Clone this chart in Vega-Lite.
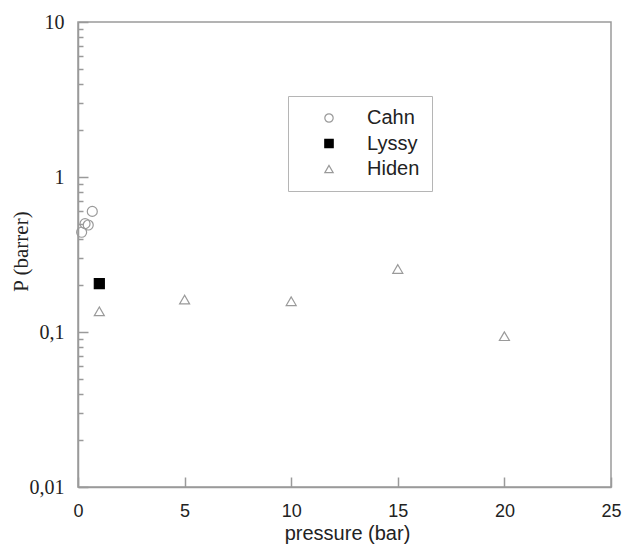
{
  "$schema": "https://vega.github.io/schema/vega-lite/v6.json",
  "width": 533,
  "height": 465,
  "autosize": {"type": "none"},
  "padding": {"left": 78, "top": 22, "right": 11, "bottom": 60},
  "background": "white",
  "config": {
    "view": {"stroke": "#9a9a9a", "strokeWidth": 1.5},
    "axis": {
      "domainColor": "#9a9a9a",
      "tickColor": "#9a9a9a",
      "domainWidth": 1.5,
      "tickWidth": 1.5,
      "grid": false,
      "labelColor": "#222",
      "titleColor": "#222",
      "titleFontWeight": "normal"
    }
  },
  "data": {
    "values": [
      {"series": "Cahn", "pressure": 0.17, "P": 0.44},
      {"series": "Cahn", "pressure": 0.33, "P": 0.5},
      {"series": "Cahn", "pressure": 0.48, "P": 0.49},
      {"series": "Cahn", "pressure": 0.67, "P": 0.6},
      {"series": "Lyssy", "pressure": 1.0, "P": 0.205},
      {"series": "Hiden", "pressure": 1.0, "P": 0.136},
      {"series": "Hiden", "pressure": 5.0, "P": 0.162},
      {"series": "Hiden", "pressure": 10.0, "P": 0.158},
      {"series": "Hiden", "pressure": 15.0, "P": 0.255},
      {"series": "Hiden", "pressure": 20.0, "P": 0.094}
    ]
  },
  "layer": [
    {
      "mark": {"type": "point", "strokeWidth": 1.2, "opacity": 1, "size": 100},
      "encoding": {
        "x": {
          "field": "pressure",
          "type": "quantitative",
          "scale": {"domain": [0, 25], "nice": false, "zero": false},
          "axis": {
            "values": [0, 5, 10, 15, 20, 25],
            "tickSize": -10,
            "labelPadding": 25,
            "labelFont": "Liberation Sans",
            "labelFontSize": 18,
            "labelFlush": false,
            "title": "pressure (bar)",
            "titleFont": "Liberation Sans",
            "titleFontSize": 20,
            "titleX": 269,
            "titleY": 52,
            "titleBaseline": "alphabetic"
          }
        },
        "y": {
          "field": "P",
          "type": "quantitative",
          "scale": {"type": "log", "domain": [0.01, 10], "nice": false},
          "axis": {
            "orient": "left",
            "values": [0.01, 0.1, 1, 10],
            "tickSize": -10,
            "labelPadding": 24,
            "labelFont": "Liberation Serif",
            "labelFontSize": 20,
            "labelExpr": "replace(toString(datum.value), '.', ',')",
            "labelFlush": false,
            "title": "P (barrer)",
            "titleFont": "Liberation Serif",
            "titleFontSize": 21,
            "titleX": -57,
            "titleY": 229,
            "titleAngle": 270,
            "titleAlign": "center",
            "titleBaseline": "middle"
          }
        },
        "shape": {
          "field": "series",
          "type": "nominal",
          "scale": {"domain": ["Cahn", "Lyssy", "Hiden"], "range": ["circle", "square", "triangle-up"]},
          "legend": {
            "title": null,
            "orient": "none",
            "legendX": 210,
            "legendY": 74,
            "padding": 12,
            "strokeColor": "#b5b5b5",
            "fillColor": "white",
            "symbolOffset": 19,
            "symbolSize": 70,
            "symbolStrokeWidth": 1.2,
            "labelOffset": 28,
            "labelFont": "Liberation Sans",
            "labelFontSize": 20,
            "labelColor": "#222",
            "rowPadding": 5.5
          }
        },
        "stroke": {
          "field": "series",
          "type": "nominal",
          "scale": {"domain": ["Cahn", "Lyssy", "Hiden"], "range": ["#9a9a9a", "#000000", "#9a9a9a"]},
          "legend": {"title": null}
        },
        "fill": {
          "field": "series",
          "type": "nominal",
          "scale": {"domain": ["Cahn", "Lyssy", "Hiden"], "range": ["transparent", "#000000", "transparent"]},
          "legend": {"title": null}
        }
      }
    },
    {
      "mark": {"type": "point", "opacity": 0},
      "encoding": {
        "y": {
          "field": "P",
          "type": "quantitative",
          "axis": {
            "orient": "left",
            "values": [0.02, 0.03, 0.04, 0.05, 0.06, 0.07, 0.08, 0.09, 0.2, 0.3, 0.4, 0.5, 0.6, 0.7, 0.8, 0.9, 2, 3, 4, 5, 6, 7, 8, 9],
            "tickSize": -5,
            "labels": false,
            "domain": false,
            "title": null
          }
        }
      }
    }
  ],
  "resolve": {"axis": {"y": "independent"}}
}
